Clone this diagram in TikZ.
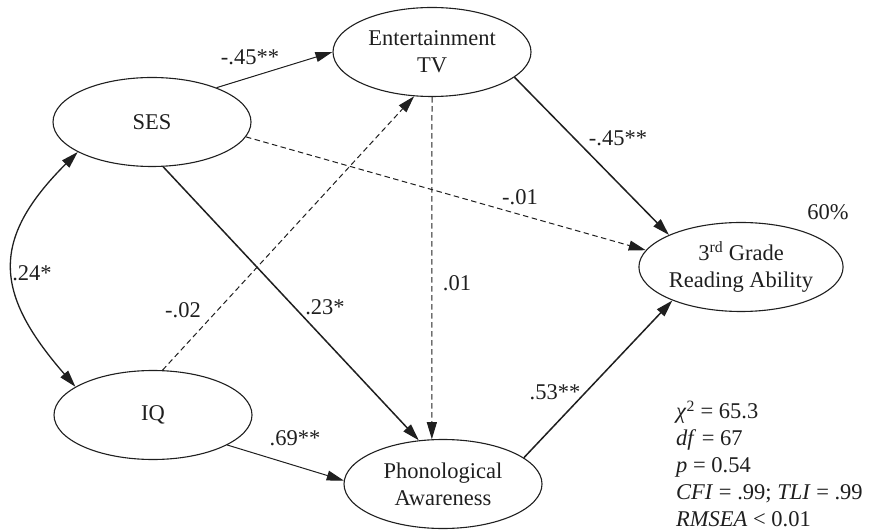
\documentclass[tikz,border=0pt]{standalone}
\usepackage{fontspec}
\setmainfont{Liberation Serif}
\usetikzlibrary{arrows.meta,shapes.geometric}
\begin{document}
\begin{tikzpicture}[x=1pt,y=1pt,
  every node/.style={font=\fontsize{22.5}{27}\selectfont,text=black!88},
  latent/.style={ellipse,draw=black!88,line width=1.1pt,minimum width=198pt,minimum height=89pt,inner sep=0pt,align=center},
  path/.style={draw=black!88,line width=1.0pt,-{Triangle[length=17pt,width=10pt]}},
  tpath/.style={path,line width=1.5pt},
  dpath/.style={path,dash pattern=on 5.5pt off 3.5pt},
  coef/.style={inner sep=1pt}]
\useasboundingbox (0,0) rectangle (874,530);
\node[latent] (ses) at (152,408) {SES};
\node[latent] (etv) at (432,478) {Entertainment\\TV};
\node[latent] (iq) at (153,115) {IQ};
\node[latent] (pa) at (443,46) {Phonological\\Awareness};
\node[latent] (rd) at (741,263) {3\textsuperscript{rd} Grade\\Reading Ability};

\draw[path] (ses.28) -- (etv.180);
\draw[dpath] (ses.-9) -- (rd.170);
\draw[tpath] (ses.-76) -- (pa.119);
\draw[tpath] (etv.-17) -- (rd.156);
\draw[dpath] (etv.270) -- (pa.104);
\draw[dpath] (iq.78) -- (etv.248);
\draw[path] (iq.-22) -- (pa.178);
\draw[tpath] (pa.18) -- (rd.206);
\draw[draw=black!88,line width=1.3pt,{Triangle[length=17pt,width=10pt]}-{Triangle[length=17pt,width=10pt]}]
  (ses.202) to[out=225,in=131,looseness=1.35] (iq.160);

\node[coef] (l1) at (250,473) {-.45**};
\node[coef] (l2) at (618,392) {-.45**};
\node[coef] (l3) at (520,333) {-.01};
\node[coef] (l4) at (828,318) {60\%};
\node[coef] (l5) at (32,257) {.24*};
\node[coef] (l6) at (183,220) {-.02};
\node[coef] (l7) at (325,223) {.23*};
\node[coef] (l8) at (457,247) {.01};
\node[coef] (l9) at (295,92) {.69**};
\node[coef] (l10) at (555,138) {.53**};
\node[coef,anchor=west,align=left] (stats) at (675,66)
  {\textit{χ}\textsuperscript{2} = 65.3\\ \textit{df} = 67\\ \textit{p} = 0.54\\ \textit{CFI} = .99; \textit{TLI} = .99\\ \textit{RMSEA} < 0.01};
\end{tikzpicture}
\end{document}
